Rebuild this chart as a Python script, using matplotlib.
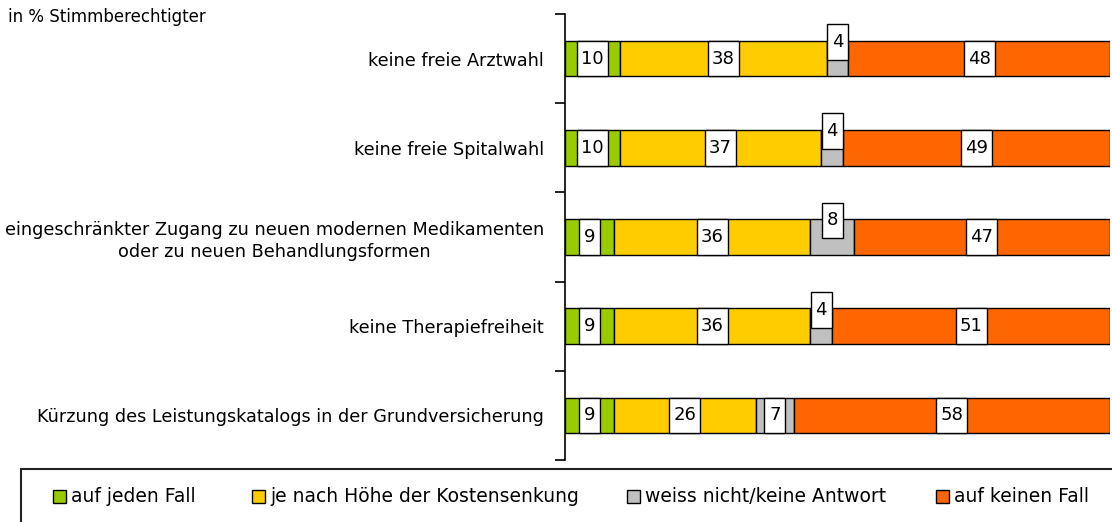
import matplotlib
matplotlib.use('Agg')
import numpy as np
from matplotlib import pyplot as plt
from matplotlib.patches import Rectangle

# data
categories = ['keine freie Arztwahl',
              'keine freie Spitalwahl',
              'eingeschränkter Zugang zu neuen modernen Medikamenten\noder zu neuen Behandlungsformen',
              'keine Therapiefreiheit',
              'Kürzung des Leistungskatalogs in der Grundversicherung']
series_names = ['auf jeden Fall', 'je nach Höhe der Kostensenkung',
                'weiss nicht/keine Antwort', 'auf keinen Fall']
auf_jeden_fall = [10, 10, 9, 9, 9]
je_nach_hoehe = [38, 37, 36, 36, 26]
weiss_nicht = [4, 4, 8, 4, 7]
auf_keinen_fall = [48, 49, 47, 51, 58]

colors = ['#99cc00', '#ffcc00', '#c0c0c0', '#ff6600']
# which gray labels sit above the bar (too narrow to fit)
gray_raised = [True, True, True, True, False]

plt.rcParams['font.family'] = ['DejaVu Sans']
fig = plt.figure(figsize=(11.12, 5.22), dpi=100)
ax = fig.add_axes([565 / 1112, 1 - 460 / 522, 545 / 1112, 446 / 522])

bar_h = 0.4
px_x = 100 / 545.0  # data units per pixel along x
series = [auf_jeden_fall, je_nach_hoehe, weiss_nicht, auf_keinen_fall]
y = np.arange(len(categories))
left = np.zeros(len(categories))
for s_idx, vals in enumerate(series):
    vals = np.array(vals, dtype=float)
    ax.barh(y, vals, left=left, height=bar_h, color=colors[s_idx],
            edgecolor='black', linewidth=1.0, label=series_names[s_idx])
    for i, v in enumerate(vals):
        yy = y[i]
        if s_idx == 2 and gray_raised[i]:
            yy = y[i] - 0.185
        lab = '%d' % v
        w = (11 + 10 * len(lab)) * px_x
        xc = left[i] + v / 2
        ax.add_patch(Rectangle((xc - w / 2, yy - bar_h / 2), w, bar_h,
                               fc='white', ec='black', lw=1.0, zorder=3))
        ax.text(xc, yy, lab, ha='center', va='center', fontsize=13,
                zorder=4)
    left += vals

ax.set_xlim(0, 100)
ax.set_ylim(len(categories) - 0.5, -0.5)
ax.set_yticks(y)
ax.set_yticklabels(categories, fontsize=12.7, ha='right',
                   multialignment='center', linespacing=1.3)
ax.tick_params(axis='y', which='major', length=0, pad=15)
ax.set_yticks(np.arange(-0.5, len(categories)), minor=True)
ax.tick_params(axis='y', which='minor', length=7, width=1.2)
ax.set_xticks([])
for side in ['top', 'right', 'bottom']:
    ax.spines[side].set_visible(False)
ax.spines['left'].set_linewidth(1.2)

fig.text(8 / 1112, 1 - 17 / 522, 'in % Stimmberechtigter', fontsize=12,
         va='center', ha='left')

# legend box
fig.patches.append(Rectangle((21 / 1112, -0.05), 1.1, 1 - 469 / 522 + 0.05,
                             transform=fig.transFigure, fill=False,
                             ec='#222222', lw=1.5))
leg_x = [53, 252, 627, 936]
for h_idx in range(len(series_names)):
    fig.patches.append(Rectangle((leg_x[h_idx] / 1112, 1 - 503 / 522),
                                 13 / 1112, 13 / 522,
                                 transform=fig.transFigure,
                                 fc=colors[h_idx], ec='black', lw=1))
    fig.text((leg_x[h_idx] + 18) / 1112, 1 - 497 / 522, series_names[h_idx],
             fontsize=13.5, va='center', ha='left')

plt.savefig('out.png', dpi=100)
